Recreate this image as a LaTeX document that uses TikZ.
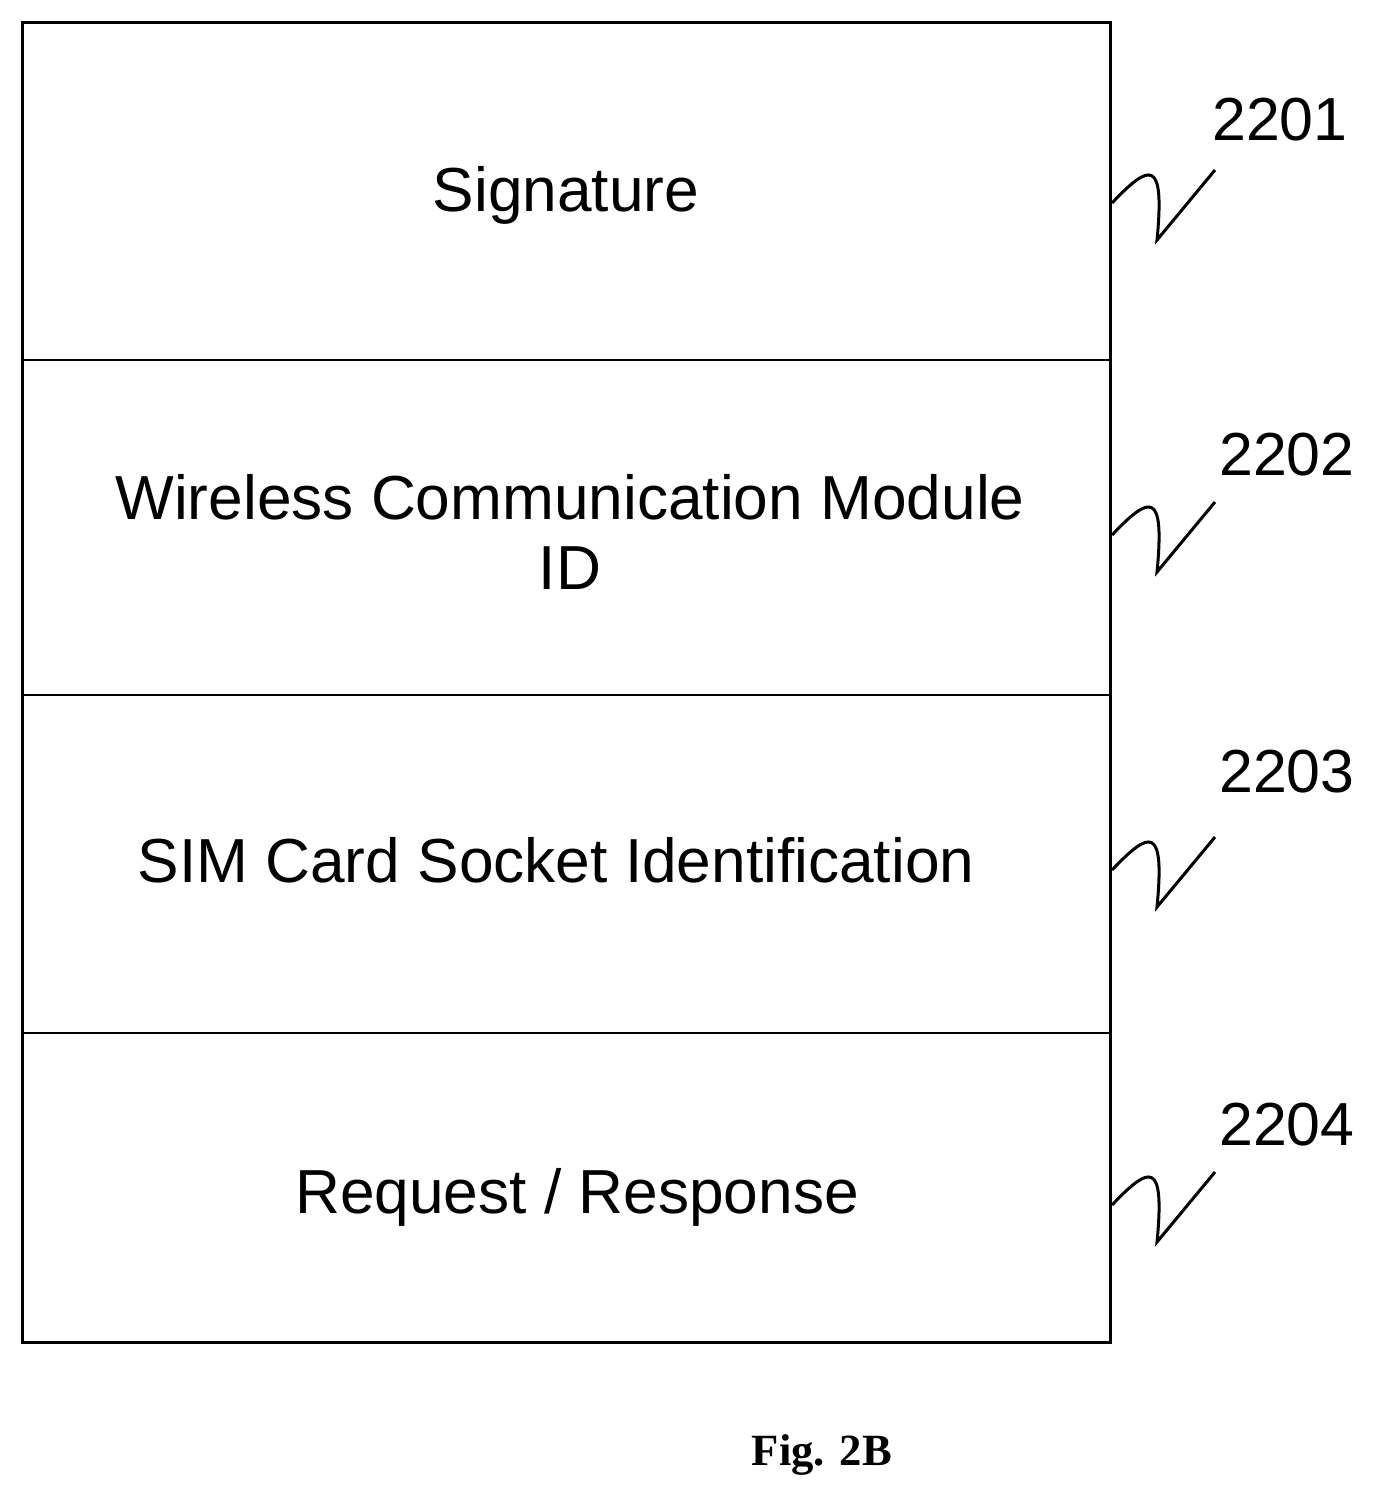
\documentclass[tikz,border=0pt]{standalone}
\usepackage{fontspec}
\setmainfont{Liberation Serif}
\newfontfamily\arialish{Liberation Sans}
\begin{document}
\begin{tikzpicture}[x=0.1mm,y=-0.1mm]
	\tikzset{field/.style={font=\arialish\fontsize{17.7}{20}\selectfont,align=center},
		refnum/.style={font=\arialish\fontsize{17.3}{20}\selectfont},
		squig/.style={line width=0.3mm}}
	\useasboundingbox (0,0) rectangle (1377,1499);
	\draw[line width=0.3mm] (22,22) rectangle (1110,1342);
	\foreach \y in {360,695,1033}{
		\draw[line width=0.25mm] (22,\y) -- (1110,\y);
	}
	\node[field] (S) at (566,195) {Signature};
	\node[field] (W) at (570,532) {Wireless Communication Module\\ID};
	\node[field] (C) at (556,860) {SIM Card Socket Identification};
	\node[field] (R) at (577,1197) {Request / Response};
	
	\node[refnum] (S2) at (1280,120) {2201};
	\node[refnum] (W2) at (1287,455) {2202};
	\node[refnum] (C2) at (1287,772) {2203};
	\node[refnum] (R2) at (1287,1125) {2204};
	%squiggles
	\foreach \y in {203,535,870,1205}{
		\draw[squig] (1112,\y) .. controls (1150,\y-40) and (1165,\y-45) .. (1157,\y+37) -- (1215,\y-33);
	}
	\node[font=\bfseries\fontsize{12.7}{15}\selectfont] (fig) at (822,1455) {Fig. 2B};
\end{tikzpicture}
\end{document}
